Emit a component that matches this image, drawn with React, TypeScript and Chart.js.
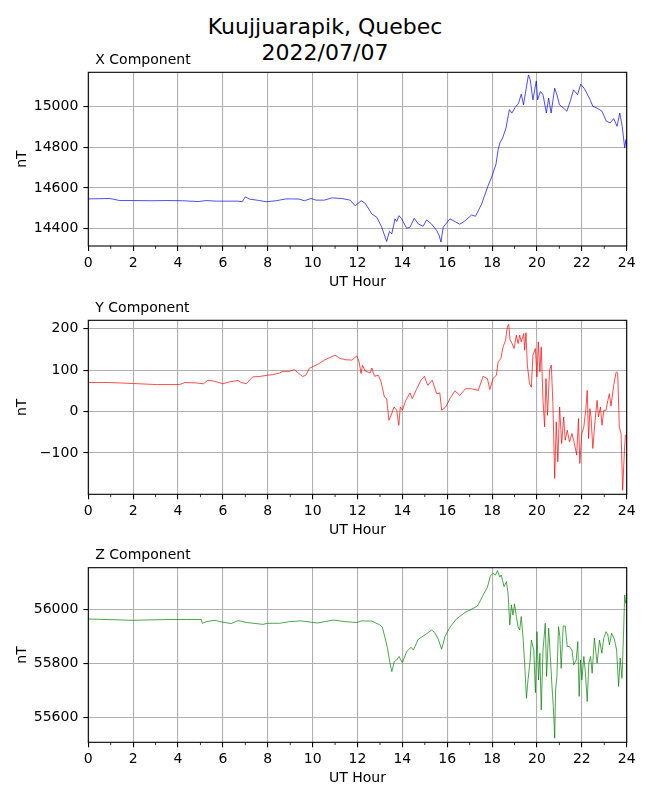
import React, { useEffect, useRef } from "react";
import { Chart, registerables } from "chart.js";

Chart.register(...registerables);

const FONT = "'DejaVu Sans', sans-serif";

// ---- axis ticks ----
const hourTicks = [0, 2, 4, 6, 8, 10, 12, 14, 16, 18, 20, 22, 24];
const hourMinorTicks = [1, 3, 5, 7, 9, 11, 13, 15, 17, 19, 21, 23];
const xCompTicks = [14400, 14600, 14800, 15000];
const yCompTicks = [-100, 0, 100, 200];
const zCompTicks = [55600, 55800, 56000];

// ---- X component ----
const xCompHours = [
  0, 0.5, 0.96, 1.4, 2.0, 2.8, 3.5, 4.2, 4.9, 5.26, 5.7, 6.15, 6.67, 6.86, 7.0, 7.19, 7.63, 7.93,
  8.37, 8.81, 9.1, 9.4, 9.63, 9.93, 10.15, 10.52, 10.86, 11.3, 11.67, 11.9, 12.16, 12.34, 12.64,
  12.86, 13.08, 13.3, 13.42, 13.53, 13.67, 13.75, 13.85, 13.97, 14.19, 14.34, 14.53, 14.71, 14.93,
  15.08, 15.3, 15.53, 15.64, 15.72, 15.82, 16.12, 16.34, 16.56, 16.79, 17.08, 17.26, 17.53, 17.82,
  18.0, 18.17, 18.27, 18.35, 18.47, 18.62, 18.77, 18.88, 19.03, 19.18, 19.3, 19.4, 19.62, 19.7,
  19.82, 19.97, 20.03, 20.15, 20.27, 20.42, 20.52, 20.63, 20.79, 20.89, 21.0, 21.18, 21.33, 21.48,
  21.63, 21.81, 21.95, 22.1, 22.22, 22.37, 22.49, 22.67, 22.9, 23.09, 23.27, 23.42, 23.57, 23.69,
  23.8, 23.91, 23.97, 24.0,
];
const xCompValues = [
  14546, 14547, 14548, 14538, 14538, 14537, 14538, 14537, 14533, 14538, 14535, 14535, 14535, 14532,
  14556, 14545, 14538, 14532, 14537, 14546, 14546, 14545, 14537, 14548, 14540, 14540, 14551, 14548,
  14540, 14512, 14537, 14525, 14472, 14456, 14407, 14337, 14386, 14375, 14448, 14435, 14464, 14448,
  14402, 14407, 14451, 14423, 14412, 14443, 14423, 14391, 14367, 14334, 14407, 14448, 14435, 14422,
  14438, 14467, 14461, 14520, 14610, 14659, 14715, 14788, 14821, 14845, 14894, 14984, 14967, 14995,
  15016, 15060, 15008, 15154, 15130, 15032, 15125, 15032, 15073, 15057, 14967, 15041, 14967, 15089,
  15057, 15008, 14992, 14976, 15024, 15081, 15057, 15109, 15089, 15065, 15032, 15000, 14992, 14976,
  14927, 14919, 14940, 14902, 14967, 14902, 14797, 14837, 14800,
];

// ---- Y component ----
const yCompHours = [
  0, 0.96, 2.0, 3.04, 4.07, 4.3, 4.81, 5.14, 5.33, 5.63, 6.0, 6.3, 6.67, 6.81, 7.04, 7.33, 7.63,
  8.0, 8.22, 8.52, 8.67, 8.96, 9.19, 9.33, 9.56, 9.7, 9.85, 10.07, 10.3, 10.52, 11.0, 11.23, 11.45,
  11.75, 11.97, 12.07, 12.16, 12.22, 12.34, 12.56, 12.64, 12.76, 12.93, 13.05, 13.2, 13.3, 13.4,
  13.5, 13.63, 13.75, 13.84, 13.91, 14.0, 14.15, 14.34, 14.44, 14.64, 14.83, 14.98, 15.13, 15.33,
  15.53, 15.67, 15.75, 15.93, 16.12, 16.34, 16.56, 16.81, 17.08, 17.38, 17.6, 17.79, 17.9, 18.04,
  18.19, 18.27, 18.39, 18.49, 18.6, 18.68, 18.74, 18.8, 18.89, 18.98, 19.08, 19.16, 19.23, 19.3,
  19.41, 19.45, 19.51, 19.57, 19.67, 19.75, 19.82, 19.93, 20.0, 20.06, 20.13, 20.19, 20.27, 20.34,
  20.4, 20.47, 20.56, 20.64, 20.71, 20.79, 20.86, 20.93, 21.01, 21.1, 21.19, 21.26, 21.35, 21.45,
  21.56, 21.67, 21.77, 21.85, 21.91, 22.0, 22.09, 22.18, 22.24, 22.3, 22.36, 22.41, 22.49, 22.59,
  22.68, 22.74, 22.83, 22.9, 22.98, 23.08, 23.16, 23.23, 23.3, 23.42, 23.53, 23.6, 23.67, 23.75,
  23.82, 23.9, 23.94, 24.0,
];
const yCompValues = [
  70, 70, 67.6, 65, 65, 70, 69, 67, 75.6, 73, 67, 71.6, 75, 70, 67, 83.7, 84.5, 87.7, 89, 92.5, 97,
  97, 101, 94, 84.5, 87.7, 104, 110, 116, 124, 136, 128, 125, 124, 134, 120, 91.5, 111.6, 98, 93,
  105, 85, 87.5, 71.5, 35, 31, -21, -9, 11, 3, -33, 11, 3, 27, 45, 31, 55, 75.5, 85, 63, 75.5, 43,
  45, 3, 11, 31, 50, 39, 55, 55, 51, 85, 79.5, 53, 79.5, 87.5, 120, 128, 156, 172, 204, 210, 173,
  164, 152, 184, 164, 184, 168, 188, 148, 190, 112, 67, 59, 136, 152, 83.5, 168, 96, 156, 27, -37,
  79.5, -9, 99.6, 112, 19, -161, -25, -121, 11, -77, -13, -69, -45, -73, -53, -77, -105, -17, -125,
  -53, -37, 7, 51, -65, 7, -13, -89, -21, 27, -13, 11, -33, 3, 3, 27, 43, 13, 63, 95.5, 93, -37,
  -53, -190, -93, -57, -60,
];

// ---- Z component ----
const zCompHours = [
  0, 2.0, 3.5, 4.37, 5.04, 5.08, 5.26, 5.63, 6.0, 6.37, 6.67, 7.04, 7.48, 7.78, 8.0, 8.52, 8.96,
  9.48, 9.93, 10.22, 10.52, 10.93, 11.45, 11.97, 12.19, 12.64, 13.0, 13.11, 13.23, 13.32, 13.45,
  13.53, 13.64, 13.75, 13.85, 14.0, 14.19, 14.39, 14.49, 14.71, 15.01, 15.3, 15.44, 15.6, 15.75,
  15.9, 16.12, 16.41, 16.79, 17.08, 17.35, 17.6, 17.79, 17.92, 18.04, 18.15, 18.24, 18.34, 18.41,
  18.53, 18.64, 18.71, 18.79, 18.86, 18.93, 19.0, 19.08, 19.16, 19.23, 19.3, 19.38, 19.45, 19.53,
  19.6, 19.69, 19.75, 19.86, 19.93, 20.0, 20.07, 20.13, 20.19, 20.27, 20.37, 20.43, 20.52, 20.6,
  20.67, 20.73, 20.79, 20.83, 20.89, 20.96, 21.02, 21.08, 21.17, 21.26, 21.35, 21.45, 21.56, 21.64,
  21.75, 21.82, 21.88, 21.94, 22.0, 22.09, 22.16, 22.24, 22.31, 22.39, 22.46, 22.56, 22.68, 22.79,
  22.89, 22.98, 23.08, 23.16, 23.23, 23.33, 23.45, 23.55, 23.64, 23.71, 23.79, 23.86, 23.91, 23.96,
  24.0,
];
const zCompValues = [
  55964, 55959, 55962, 55962, 55962, 55948, 55954, 55959, 55952, 55947, 55958, 55951, 55947, 55944,
  55948, 55948, 55954, 55957, 55952, 55949, 55954, 55960, 55954, 55951, 55957, 55956, 55942, 55933,
  55893, 55862, 55800, 55769, 55806, 55812, 55825, 55802, 55843, 55859, 55849, 55889, 55905, 55923,
  55914, 55889, 55852, 55899, 55933, 55964, 55988, 56000, 56012, 56053, 56081, 56123, 56133, 56127,
  56143, 56119, 56127, 56084, 56102, 56059, 55942, 56016, 55979, 56020, 55973, 55936, 55923, 55973,
  55896, 55800, 55670, 55738, 55806, 55886, 55849, 55691, 55917, 55738, 55837, 55627, 55849, 55948,
  55751, 55930, 55819, 55714, 55640, 55522, 55701, 55751, 55936, 55899, 55781, 55938, 55938, 55862,
  55862, 55849, 55794, 55812, 55880, 55677, 55812, 55738, 55825, 55763, 55658, 55800, 55825, 55763,
  55893, 55800, 55886, 55837, 55893, 55917, 55905, 55868, 55911, 55889, 55849, 55714, 55819, 55744,
  55911, 56053, 56022, 56040,
];

const framePlugin = {
  id: "frame",
  afterDraw(chart: any, _args: any, opts: any) {
    const { ctx, chartArea: a, scales } = chart;
    ctx.save();
    ctx.strokeStyle = "#000";
    ctx.lineWidth = 0.8;
    for (const m of hourMinorTicks) {
      const px = scales.x.getPixelForValue(m);
      ctx.beginPath();
      ctx.moveTo(px, a.bottom);
      ctx.lineTo(px, a.bottom + 2.8);
      ctx.stroke();
    }
    ctx.lineWidth = 1.1;
    ctx.strokeRect(a.left, a.top, a.right - a.left, a.bottom - a.top);
    ctx.fillStyle = "#000";
    ctx.font = `14px ${FONT}`;
    ctx.textAlign = "left";
    ctx.textBaseline = "alphabetic";
    ctx.fillText(opts.title, a.left + 7, a.top - 8.3);
    ctx.restore();
  },
};

const fmt = (v: number) => (v < 0 ? "\u2212" + Math.abs(v) : String(v));

type PanelProps = {
  top: number;
  height: number;
  padTop: number;
  axisHeight: number;
  titlePad: number;
  title: string;
  color: string;
  hours: number[];
  values: number[];
  yMin: number;
  yMax: number;
  yTicks: number[];
};

function Panel(p: PanelProps) {
  const ref = useRef<HTMLCanvasElement | null>(null);
  useEffect(() => {
    if (!ref.current) return;
    const data = p.hours.map((h, i) => ({ x: h, y: p.values[i] }));
    const chart = new Chart(ref.current, {
      type: "line",
      data: {
        datasets: [
          {
            data,
            borderColor: p.color,
            borderWidth: 0.7,
            pointRadius: 0,
            tension: 0,
            fill: false,
          },
        ],
      },
      plugins: [framePlugin as any],
      options: {
        animation: false,
        responsive: false,
        devicePixelRatio: 1,
        layout: { padding: { top: p.padTop, right: 23.3, left: 0, bottom: 0 } },
        plugins: {
          legend: { display: false },
          tooltip: { enabled: false },
          frame: { title: p.title },
        } as any,
        scales: {
          x: {
            type: "linear",
            min: 0,
            max: 24,
            afterBuildTicks: (s: any) => {
              s.ticks = hourTicks.map((v) => ({ value: v }));
            },
            afterFit: (s: any) => {
              s.height = p.axisHeight;
            },
            ticks: {
              color: "#000",
              font: { family: FONT, size: 14 },
              padding: 4,
              maxRotation: 0,
              autoSkip: false,
              callback: (v: any) => fmt(Number(v)),
            },
            grid: {
              color: "#b0b0b0",
              lineWidth: 1.1,
              drawTicks: true,
              tickLength: 5,
              tickColor: "#000",
              tickWidth: 1.1,
            },
            border: { display: false },
            title: {
              display: true,
              text: "UT Hour",
              color: "#000",
              font: { family: FONT, size: 14 },
              padding: { top: 0, bottom: p.titlePad },
            },
          },
          y: {
            type: "linear",
            min: p.yMin,
            max: p.yMax,
            afterBuildTicks: (s: any) => {
              s.ticks = p.yTicks.map((v) => ({ value: v }));
            },
            afterFit: (s: any) => {
              s.width = 88.3;
            },
            ticks: {
              color: "#000",
              font: { family: FONT, size: 14 },
              padding: 5,
              callback: (v: any) => fmt(Number(v)),
            },
            grid: {
              color: "#b0b0b0",
              lineWidth: 1.1,
              drawTicks: true,
              tickLength: 5,
              tickColor: "#000",
              tickWidth: 1.1,
            },
            border: { display: false },
            title: {
              display: true,
              text: "nT",
              color: "#000",
              font: { family: FONT, size: 14 },
              padding: { top: 13.6, bottom: 0 },
            },
          },
        },
      },
    });
    return () => chart.destroy();
  }, []);
  return (
    <canvas
      ref={ref}
      width={650}
      height={p.height}
      style={{ position: "absolute", left: 0, top: p.top, width: 650, height: p.height }}
    />
  );
}

export default function App() {
  return (
    <div
      style={{
        position: "absolute",
        left: 0,
        top: 0,
        width: 650,
        height: 800,
        background: "#fff",
        overflow: "hidden",
      }}
    >
      <div
        style={{
          position: "absolute",
          left: 0,
          top: 13.9,
          width: 650,
          textAlign: "center",
          fontFamily: FONT,
          fontSize: 22,
          lineHeight: "25.7px",
          color: "#000",
          whiteSpace: "pre",
        }}
      >
        {"Kuujjuarapik, Quebec\n2022/07/07"}
      </div>
      <Panel
        top={40}
        height={260}
        padTop={32.3}
        axisHeight={54}
        titlePad={9.6}
        title="X Component"
        color="#0000ff"
        hours={xCompHours}
        values={xCompValues}
        yMin={14315}
        yMax={15167}
        yTicks={xCompTicks}
      />
      <Panel
        top={290}
        height={260}
        padTop={30.3}
        axisHeight={55.7}
        titlePad={11.3}
        title="Y Component"
        color="#ff0000"
        hours={yCompHours}
        values={yCompValues}
        yMin={-199.5}
        yMax={220}
        yTicks={yCompTicks}
      />
      <Panel
        top={540}
        height={260}
        padTop={27.7}
        axisHeight={57.7}
        titlePad={13.3}
        title="Z Component"
        color="#008000"
        hours={zCompHours}
        values={zCompValues}
        yMin={55507}
        yMax={56154}
        yTicks={zCompTicks}
      />
    </div>
  );
}
